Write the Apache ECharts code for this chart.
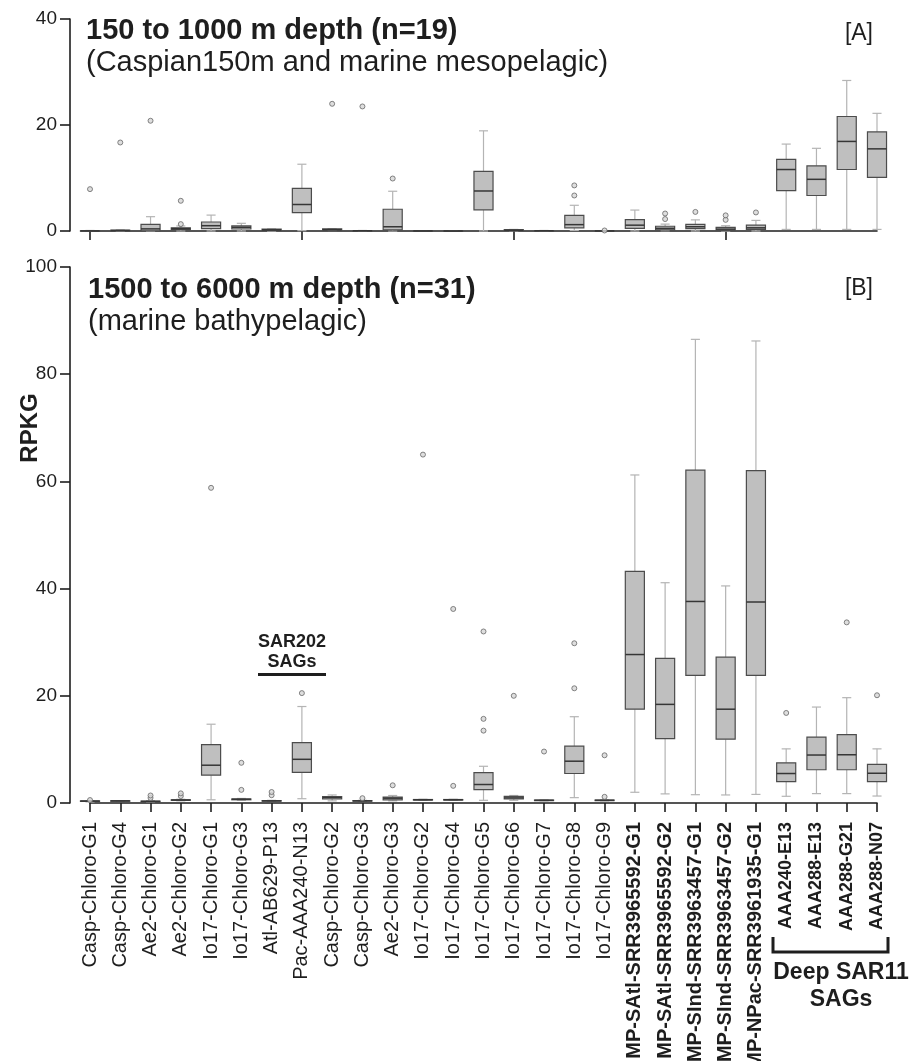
<!DOCTYPE html>
<html>
<head>
<meta charset="utf-8">
<script src="https://cdn.jsdelivr.net/npm/echarts@6/dist/echarts.min.js"></script>
<style>
  html, body { margin: 0; padding: 0; background: #fff; }
  #chart { width: 922px; height: 1061px; }
</style>
</head>
<body>
<div id="chart"></div>
<script>
  const categories = [
    'Casp-Chloro-G1', 'Casp-Chloro-G4', 'Ae2-Chloro-G1', 'Ae2-Chloro-G2', 'Io17-Chloro-G1',
    'Io17-Chloro-G3', 'Atl-AB629-P13', 'Pac-AAA240-N13', 'Casp-Chloro-G2', 'Casp-Chloro-G3',
    'Ae2-Chloro-G3', 'Io17-Chloro-G2', 'Io17-Chloro-G4', 'Io17-Chloro-G5', 'Io17-Chloro-G6',
    'Io17-Chloro-G7', 'Io17-Chloro-G8', 'Io17-Chloro-G9',
    'MP-SAtl-SRR3965592-G1', 'MP-SAtl-SRR3965592-G2', 'MP-SInd-SRR3963457-G1',
    'MP-SInd-SRR3963457-G2', 'MP-NPac-SRR3961935-G1',
    'AAA240-E13', 'AAA288-E13', 'AAA288-G21', 'AAA288-N07'
  ];

  // [min, Q1, median, Q3, max] per category
  const boxesMeso = [
    [0, 0, 0.02, 0.05, 0.1], [0, 0.05, 0.1, 0.15, 0.2], [0, 0.05, 0.4, 1.25, 2.7],
    [0, 0.25, 0.45, 0.6, 0.95], [0, 0.45, 1.0, 1.7, 3.0], [0, 0.38, 0.7, 0.95, 1.45],
    [0, 0.1, 0.2, 0.35, 0.4], [0.06, 3.45, 5.0, 8.05, 12.6], [0.1, 0.15, 0.25, 0.4, 0.45],
    [0, 0.02, 0.05, 0.08, 0.1], [0, 0.2, 0.8, 4.1, 7.5], [0, 0.01, 0.02, 0.03, 0.05],
    [0, 0, 0.01, 0.02, 0.03], [0, 4.0, 7.55, 11.25, 18.9], [0.05, 0.1, 0.15, 0.25, 0.3],
    [0, 0.02, 0.05, 0.07, 0.1], [0.1, 0.6, 1.2, 2.95, 4.85], [0, 0.01, 0.02, 0.03, 0.05],
    [0, 0.5, 1.1, 2.15, 3.95], [0.05, 0.2, 0.5, 0.9, 1.3], [0, 0.45, 0.8, 1.25, 2.1],
    [0, 0.1, 0.35, 0.7, 1.0], [0, 0.3, 0.6, 1.1, 2.0], [0.3, 7.6, 11.6, 13.5, 16.4],
    [0.3, 6.7, 9.75, 12.3, 15.6], [0.3, 11.6, 16.9, 21.6, 28.4], [0.3, 10.1, 15.5, 18.7, 22.2]
  ];
  // [category index, value]
  const outliersMeso = [
    [0, 7.9], [1, 16.7], [2, 20.8], [3, 5.7], [3, 1.3], [8, 24.0], [9, 23.5], [10, 9.9],
    [16, 6.7], [16, 8.6], [17, 0.1], [19, 2.25], [19, 3.3], [20, 3.6], [21, 2.1], [21, 2.95],
    [22, 3.5]
  ];

  const boxesBathy = [
    [0.2, 0.3, 0.35, 0.4, 0.45], [0.3, 0.35, 0.4, 0.42, 0.45], [0.2, 0.25, 0.3, 0.35, 0.45],
    [0.4, 0.5, 0.55, 0.6, 0.7], [0.6, 5.2, 7.05, 10.9, 14.7], [0.5, 0.6, 0.7, 0.75, 0.85],
    [0.3, 0.35, 0.4, 0.45, 0.5], [0.8, 5.7, 8.15, 11.25, 18.0], [0.4, 0.75, 1.0, 1.2, 1.5],
    [0.3, 0.35, 0.4, 0.45, 0.5], [0.4, 0.6, 0.9, 1.1, 1.4], [0.5, 0.55, 0.6, 0.65, 0.7],
    [0.5, 0.55, 0.6, 0.65, 0.7], [0.5, 2.5, 3.45, 5.65, 6.85], [0.5, 0.75, 0.95, 1.25, 1.4],
    [0.4, 0.45, 0.5, 0.55, 0.6], [1.0, 5.5, 7.8, 10.6, 16.1], [0.4, 0.45, 0.5, 0.55, 0.6],
    [2.0, 17.5, 27.7, 43.2, 61.2], [1.7, 12.0, 18.4, 27.0, 41.1], [1.55, 23.8, 37.6, 62.1, 86.5],
    [1.5, 11.9, 17.5, 27.2, 40.5], [1.6, 23.8, 37.5, 62.0, 86.2], [1.25, 4.0, 5.5, 7.5, 10.1],
    [1.75, 6.2, 8.95, 12.3, 17.9], [1.75, 6.2, 9.0, 12.75, 19.65], [1.3, 4.0, 5.55, 7.2, 10.1]
  ];
  const outliersBathy = [
    [0, 0.55], [2, 0.95], [2, 1.4], [3, 1.3], [3, 1.8], [4, 58.8], [5, 2.45], [5, 7.5],
    [6, 1.45], [6, 2.05], [7, 20.5], [9, 0.9], [10, 3.3], [11, 65.0], [12, 3.2], [12, 36.2],
    [13, 13.5], [13, 15.7], [13, 32.0], [14, 20.0], [15, 9.6], [16, 21.4], [16, 29.8],
    [17, 1.15], [17, 8.9], [23, 16.8], [25, 33.7], [26, 20.1]
  ];

  const FONT = "'Liberation Sans', Arial, Helvetica, sans-serif";
  const INK = '#1e1e1e';

  function renderBox(params, api) {
    const i = api.value(0);
    const lo = api.coord([i, api.value(1)]);
    const q1 = api.coord([i, api.value(2)]);
    const md = api.coord([i, api.value(3)]);
    const q3 = api.coord([i, api.value(4)]);
    const hi = api.coord([i, api.value(5)]);
    const band = api.size([1, 0])[0];
    const w = band * 0.63;
    const cap = band * 0.3;
    const cx = lo[0];
    const whisker = { stroke: '#b4b4b4', lineWidth: 1.2 };
    return {
      type: 'group',
      children: [
        { type: 'line', shape: { x1: cx, y1: q1[1], x2: cx, y2: lo[1] }, style: whisker },
        { type: 'line', shape: { x1: cx, y1: q3[1], x2: cx, y2: hi[1] }, style: whisker },
        { type: 'line', shape: { x1: cx - cap / 2, y1: lo[1], x2: cx + cap / 2, y2: lo[1] }, style: whisker },
        { type: 'line', shape: { x1: cx - cap / 2, y1: hi[1], x2: cx + cap / 2, y2: hi[1] }, style: whisker },
        {
          type: 'rect',
          shape: { x: cx - w / 2, y: q3[1], width: w, height: Math.max(q1[1] - q3[1], 0.5) },
          style: { fill: '#bfbfbf', stroke: '#4c4c4c', lineWidth: 1.2 }
        },
        { type: 'line', shape: { x1: cx - w / 2, y1: md[1], x2: cx + w / 2, y2: md[1] }, style: { stroke: '#363636', lineWidth: 1.5 } }
      ]
    };
  }

  function xAxisBase(gridIndex, offset) {
    return {
      type: 'category',
      gridIndex: gridIndex,
      data: categories,
      boundaryGap: false,
      offset: offset,
      axisLine: { lineStyle: { color: INK, width: 1.6 } },
      axisTick: { length: 9, lineStyle: { color: INK, width: 1.6 } },
      splitLine: { show: false }
    };
  }

  function yAxisBase(gridIndex, max) {
    return {
      type: 'value',
      gridIndex: gridIndex,
      min: 0,
      max: max,
      interval: 20,
      offset: 20,
      axisLine: { show: true, lineStyle: { color: INK, width: 1.6 } },
      axisTick: { show: true, length: 10, lineStyle: { color: INK, width: 1.6 } },
      axisLabel: { color: INK, fontSize: 19, fontFamily: FONT, margin: 13 },
      splitLine: { show: false }
    };
  }

  const boldStart = categories.indexOf('MP-SAtl-SRR3965592-G1');
  const sagStart = categories.indexOf('AAA240-E13');

  const outlierStyle = { color: '#d6d6d6', borderColor: '#666', borderWidth: 1 };

  const option = {
    animation: false,
    backgroundColor: '#fff',
    grid: [
      { left: 90, right: 45, top: 19, height: 212, outerBoundsMode: 'none' },
      { left: 90, right: 45, top: 267, height: 536, outerBoundsMode: 'none' }
    ],
    xAxis: [
      Object.assign(xAxisBase(0, 6), { axisLabel: { show: false } }),
      Object.assign(xAxisBase(1, 5), {
        axisLabel: {
          rotate: 90,
          margin: 14,
          interval: 0,
          color: INK,
          fontSize: 20,
          fontFamily: FONT,
          formatter: function (value, idx) {
            if (idx >= sagStart) return '{a|' + value + '}';
            if (idx >= boldStart) return '{m|' + value + '}';
            return value;
          },
          rich: {
            m: { fontWeight: 'bold', fontSize: 20, fontFamily: FONT, color: INK },
            a: { fontWeight: 'bold', fontSize: 18, fontFamily: FONT, color: INK }
          }
        }
      })
    ],
    yAxis: [yAxisBase(0, 40), yAxisBase(1, 100)],
    series: [
      {
        name: 'Mesopelagic',
        type: 'custom',
        xAxisIndex: 0,
        yAxisIndex: 0,
        renderItem: renderBox,
        encode: { x: 0, y: [1, 2, 3, 4, 5] },
        data: boxesMeso.map((b, i) => [i].concat(b)),
        z: 2
      },
      {
        name: 'Mesopelagic outliers',
        type: 'scatter',
        xAxisIndex: 0,
        yAxisIndex: 0,
        symbol: 'circle',
        symbolSize: 5,
        itemStyle: outlierStyle,
        data: outliersMeso,
        z: 3
      },
      {
        name: 'Bathypelagic',
        type: 'custom',
        xAxisIndex: 1,
        yAxisIndex: 1,
        renderItem: renderBox,
        encode: { x: 0, y: [1, 2, 3, 4, 5] },
        data: boxesBathy.map((b, i) => [i].concat(b)),
        z: 2
      },
      {
        name: 'Bathypelagic outliers',
        type: 'scatter',
        xAxisIndex: 1,
        yAxisIndex: 1,
        symbol: 'circle',
        symbolSize: 5,
        itemStyle: outlierStyle,
        data: outliersBathy,
        z: 3
      }
    ],
    graphic: [
      { type: 'text', style: { x: 86, y: 31, text: '150 to 1000 m depth (n=19)', font: 'bold 29px ' + FONT, fill: INK, verticalAlign: 'middle' } },
      { type: 'text', style: { x: 86, y: 63, text: '(Caspian150m and marine mesopelagic)', font: '29px ' + FONT, fill: INK, verticalAlign: 'middle' } },
      { type: 'text', style: { x: 873, y: 34, text: '[A]', font: '23px ' + FONT, fill: INK, align: 'right', verticalAlign: 'middle' } },
      { type: 'text', style: { x: 88, y: 290, text: '1500 to 6000 m depth (n=31)', font: 'bold 29px ' + FONT, fill: INK, verticalAlign: 'middle' } },
      { type: 'text', style: { x: 88, y: 322, text: '(marine bathypelagic)', font: '29px ' + FONT, fill: INK, verticalAlign: 'middle' } },
      { type: 'text', style: { x: 873, y: 289, text: '[B]', font: '23px ' + FONT, fill: INK, align: 'right', verticalAlign: 'middle' } },
      { type: 'text', x: 30, y: 428, rotation: Math.PI / 2, style: { x: 0, y: 0, text: 'RPKG', font: 'bold 24px ' + FONT, fill: INK, align: 'center', verticalAlign: 'middle' } },
      { type: 'text', style: { x: 292, y: 642, text: 'SAR202', font: 'bold 18px ' + FONT, fill: INK, align: 'center', verticalAlign: 'middle' } },
      { type: 'text', style: { x: 292, y: 662, text: 'SAGs', font: 'bold 18px ' + FONT, fill: INK, align: 'center', verticalAlign: 'middle' } },
      { type: 'rect', shape: { x: 258, y: 673, width: 68, height: 3 }, style: { fill: INK } },
      { type: 'polyline', shape: { points: [[773, 937], [773, 952], [888, 952], [888, 937]] }, style: { stroke: INK, lineWidth: 3, fill: null } },
      { type: 'text', style: { x: 841, y: 973, text: 'Deep SAR11', font: 'bold 23px ' + FONT, fill: INK, align: 'center', verticalAlign: 'middle' } },
      { type: 'text', style: { x: 841, y: 1000, text: 'SAGs', font: 'bold 23px ' + FONT, fill: INK, align: 'center', verticalAlign: 'middle' } }
    ]
  };

  const chart = echarts.init(document.getElementById('chart'));
  chart.setOption(option);
</script>
</body>
</html>
